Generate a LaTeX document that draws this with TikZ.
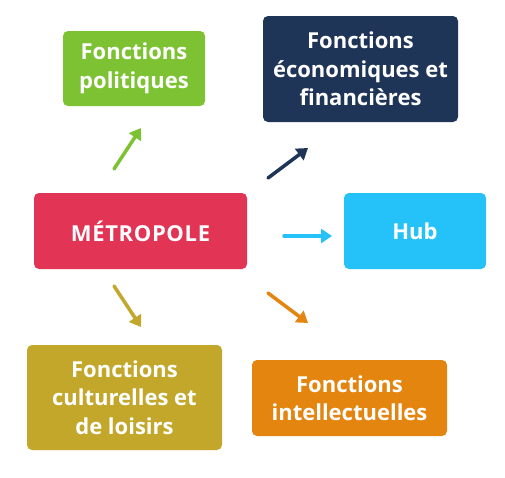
\documentclass[tikz,border=0pt]{standalone}
\usepackage{fontspec}
\setmainfont{Open Sans}
\usetikzlibrary{arrows.meta}
\definecolor{cgreen}{HTML}{7DC233}
\definecolor{cnavy}{HTML}{1F3557}
\definecolor{cred}{HTML}{E23556}
\definecolor{cblue}{HTML}{25C2FA}
\definecolor{colive}{HTML}{C3A72B}
\definecolor{corange}{HTML}{E3850F}
\tikzset{
  box/.style={rounded corners=5pt, inner sep=0pt, text=white, align=center,
    font=\fontsize{22}{28.5}\selectfont\bfseries},
  conn/.style={line width=3.5pt, line cap=round, -{Triangle[length=11pt,width=14pt]}},
}
\begin{document}
\begin{tikzpicture}[x=1pt,y=-1pt]
\useasboundingbox (0,0) rectangle (505,477);
\fill[white] (0,0) rectangle (505,477);
\node[box, fill=cgreen, minimum width=142pt, minimum height=75pt] (pol) at (134,68.5) {Fonctions\\politiques};
\node[box, fill=cnavy, minimum width=195pt, minimum height=106pt] (eco) at (360.5,69) {Fonctions\\économiques et\\financières};
\node[box, fill=cred, minimum width=213pt, minimum height=76pt] (met) at (140.5,231) {\addfontfeature{LetterSpace=3}MÉTROPOLE};
\node[box, fill=cblue, minimum width=142pt, minimum height=76pt] (hub) at (415,231) {Hub};
\node[box, fill=colive, minimum width=195pt, minimum height=105pt] (cul) at (124.5,397.5) {Fonctions\\culturelles et\\de loisirs};
\node[box, fill=corange, minimum width=195pt, minimum height=76pt] (int) at (349.5,398) {Fonctions\\intellectuelles};
\coordinate (a1s) at (114,169); \coordinate (a1e) at (141,128);
\coordinate (a2s) at (268,178); \coordinate (a2e) at (308,148);
\coordinate (a3s) at (284,236); \coordinate (a3e) at (332,236);
\coordinate (a4s) at (114,286); \coordinate (a4e) at (141,327);
\coordinate (a5s) at (268,293); \coordinate (a5e) at (308,323);
\draw[conn, cgreen] (a1s) -- (a1e);
\draw[conn, cnavy] (a2s) -- (a2e);
\draw[conn, cblue] (a3s) -- (a3e);
\draw[conn, colive] (a4s) -- (a4e);
\draw[conn, corange] (a5s) -- (a5e);
\end{tikzpicture}
\end{document}
